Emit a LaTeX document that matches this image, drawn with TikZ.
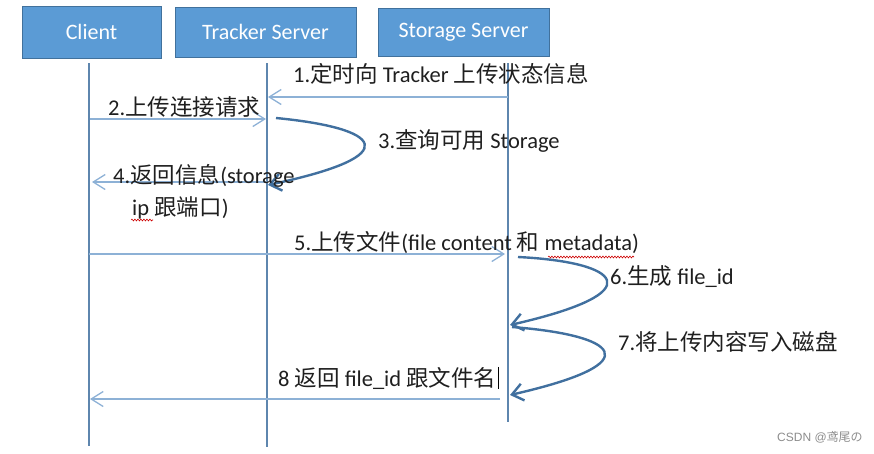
\documentclass[tikz,border=0pt]{standalone}
\usepackage{fontspec}
\setmainfont{Carlito}
\newfontfamily\cjk{Noto Sans CJK SC}
\newfontfamily\wmfont{Liberation Sans}
\usetikzlibrary{arrows.meta, decorations.pathmorphing}
\definecolor{boxblue}{HTML}{5B9BD5}
\definecolor{boxedge}{HTML}{41719C}
\definecolor{lifeblue}{HTML}{5E86AE}
\definecolor{msgblue}{HTML}{8DB1D6}
\definecolor{selfblue}{HTML}{41709F}

\tikzset{
    actor/.style={draw=boxedge, line width=0.8pt, fill=boxblue, text=white,
        font=\fontsize{22}{26}\selectfont, inner sep=0pt},
    lifeline/.style={draw=lifeblue, line width=1.6pt},
    msg/.style={draw=msgblue, line width=1.3pt,
        -{Straight Barb[length=12pt, width=15pt]}},
    selfmsg/.style={draw=selfblue, line width=2.4pt,
        -{Straight Barb[length=11pt, width=17pt]}},
    lbl/.style={anchor=base west, inner sep=0pt, text=black!88,
        font=\fontsize{22.5}{27}\selectfont},
    squiggle/.style={draw=red!80!black, line width=0.6pt,
        decorate, decoration={snake, amplitude=0.9pt, segment length=3pt}},
}

\begin{document}
\begin{tikzpicture}[x=1pt, y=-1pt]
    \useasboundingbox (0,0) rectangle (874,453);

    % actors
    \node[actor, minimum width=139pt, minimum height=52pt] (client) at (91.5,32) {Client};
    \node[actor, minimum width=181pt, minimum height=50pt] (tracker) at (265.5,32) {Tracker Server};
    \node[actor, minimum width=171pt, minimum height=48pt] (storage) at (463.5,32) {Storage Server};

    % lifelines
    \coordinate (cTop) at (89,63);
    \coordinate (cBot) at (89,446);
    \coordinate (tTop) at (267,63);
    \coordinate (tBot) at (267,447);
    \coordinate (sTop) at (508,63);
    \coordinate (sBot) at (508,422);
    \foreach \p in {c,t,s}
    \draw[lifeline] (\p Top) -- (\p Bot);

    % message ends
    \coordinate (s1) at (508,97);
    \coordinate (t1) at (268,97);
    \coordinate (c2) at (90,119);
    \coordinate (t2) at (266,119);
    \coordinate (t3a) at (276,118);
    \coordinate (t3b) at (268,185);
    \coordinate (t4) at (267,182);
    \coordinate (c4) at (92,182);
    \coordinate (c5) at (89,254);
    \coordinate (s5) at (505,254);
    \coordinate (s6a) at (518,257);
    \coordinate (s6b) at (510,325);
    \coordinate (s7a) at (512,327);
    \coordinate (s7b) at (510,395);
    \coordinate (s8) at (500,399);
    \coordinate (c8) at (90,399);

    \draw[msg] (s1) -- (t1);
    \draw[msg] (c2) -- (t2);
    \draw[selfmsg] (t3a) .. controls (380,128) and (410,155) .. (t3b);
    \draw[msg] (t4) -- (c4);
    \draw[msg] (c5) -- (s5);
    \draw[selfmsg] (s6a) .. controls (620,262) and (655,292) .. (s6b);
    \draw[selfmsg] (s7a) .. controls (615,335) and (655,362) .. (s7b);
    \draw[msg] (s8) -- (c8);

    % labels
    \node[lbl] (l1) at (293,82) {1.{\cjk 定时向} Tracker {\cjk 上传状态信息}};
    \node[lbl] (l2) at (108,115) {2.{\cjk 上传连接请求}};
    \node[lbl] (l3) at (378,148) {3.{\cjk 查询可用} Storage};
    \node[lbl] (l4a) at (113,183) {4.{\cjk 返回信息}(storage};
    \node[lbl] (l4b) at (132,215) {ip {\cjk 跟端口})};
    \node[lbl] (l5) at (294,250) {5.{\cjk 上传文件}(file content {\cjk 和} metadata)};
    \node[lbl] (l6) at (610,284) {6.{\cjk 生成} file\_id};
    \node[lbl] (l7) at (618,350) {7.{\cjk 将上传内容写入磁盘}};
    \node[lbl] (l8) at (278,386) {8 {\cjk 返回} file\_id {\cjk 跟文件名}};
    \draw[line width=1pt] ([xshift=2pt]l8.north east) -- ([xshift=2pt]l8.south east);

    % spell-check marks
    \draw[squiggle] (131,220) -- (153,220);
    \draw[squiggle] (548,257) -- (634,257);

    \node[anchor=base west, inner sep=0pt, text=black!45, font=\wmfont\fontsize{12}{14}\selectfont]
        (wm) at (777,441) {CSDN @{\cjk 鸢尾の}};
\end{tikzpicture}
\end{document}
